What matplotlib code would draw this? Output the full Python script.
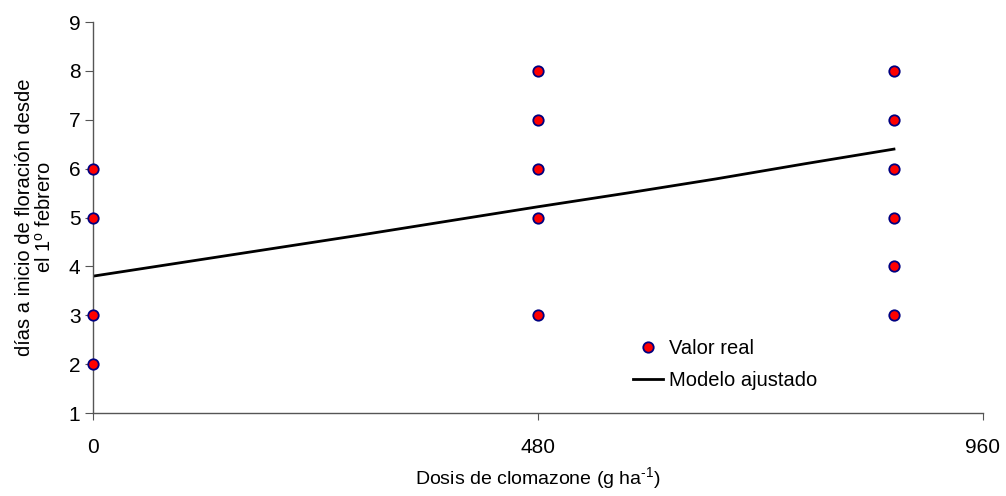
import matplotlib
matplotlib.use("Agg")
import matplotlib.pyplot as plt

plt.rcParams['font.family'] = ['Liberation Sans', 'DejaVu Sans']
plt.rcParams['mathtext.fontset'] = 'custom'
plt.rcParams['mathtext.rm'] = 'Liberation Sans'
plt.rcParams['mathtext.it'] = 'Liberation Sans:italic'

# observed values
dose_obs = [0, 0, 0, 0, 480, 480, 480, 480, 480, 864, 864, 864, 864, 864, 864]
days_obs = [2, 3, 5, 6, 3, 5, 6, 7, 8, 3, 4, 5, 6, 7, 8]

# fitted model line
dose_fit = [0, 96, 192, 288, 384, 480, 576, 672, 768, 864]
days_fit = [3.8, 4.08, 4.36, 4.64, 4.93, 5.22, 5.5, 5.79, 6.1, 6.4]

xticks = [0, 480, 960]
yticks = [1, 2, 3, 4, 5, 6, 7, 8, 9]

fig = plt.figure(figsize=(10.06, 4.96), dpi=100)
ax = fig.add_axes([0.0924, 0.1673, 0.8847, 0.7883])

ax.plot(dose_obs, days_obs, 'o', ms=7.5, mfc='#ff0000', mec='#000080', mew=1.3,
        label='Valor real', zorder=3, clip_on=False)
ax.plot(dose_fit, days_fit, '-', color='black', lw=2, label='Modelo ajustado')

ax.set_xlim(0, 960)
ax.set_ylim(1, 9)
ax.set_xticks(xticks)
ax.set_yticks(yticks)
for s in ['top', 'right']:
    ax.spines[s].set_visible(False)
for s in ['left', 'bottom']:
    ax.spines[s].set_color('#555555')
    ax.spines[s].set_linewidth(1)
ax.tick_params(axis='y', length=6, color='#555555', labelsize=15, pad=3)
ax.tick_params(axis='x', length=5, color='#555555', labelsize=15, pad=13)

ax.set_xlabel('Dosis de clomazone (g ha$^{\\text{-1}}$)', fontsize=14, labelpad=6)
ax.set_ylabel('días a inicio de floración desde\nel 1$^{\\mathrm{o}}$ febrero',
              fontsize=14.5, labelpad=10, linespacing=1.05)

ax.legend(loc='upper left', bbox_to_anchor=(0.5865, 0.235), frameon=False,
          fontsize=14.5, handlelength=1.5, handletextpad=0.3, labelspacing=0.65)

fig.savefig('out.png', dpi=100)
